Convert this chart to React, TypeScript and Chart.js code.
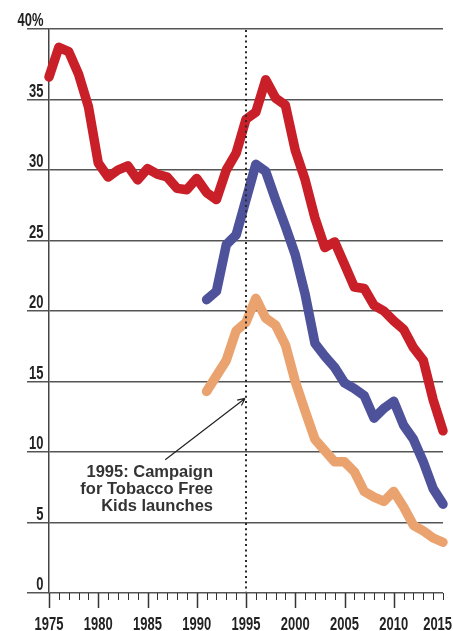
import React, { useEffect, useRef } from 'react';
import { Chart, registerables } from 'chart.js';

Chart.register(...registerables);

// ---- data ----
const allYears = [
  1975, 1976, 1977, 1978, 1979, 1980, 1981, 1982, 1983, 1984,
  1985, 1986, 1987, 1988, 1989, 1990, 1991, 1992, 1993, 1994,
  1995, 1996, 1997, 1998, 1999, 2000, 2001, 2002, 2003, 2004,
  2005, 2006, 2007, 2008, 2009, 2010, 2011, 2012, 2013, 2014, 2015,
];
const laterYears = [
  1991, 1992, 1993, 1994, 1995, 1996, 1997, 1998, 1999, 2000,
  2001, 2002, 2003, 2004, 2005, 2006, 2007, 2008, 2009, 2010,
  2011, 2012, 2013, 2014, 2015,
];
const redValues = [
  36.6, 38.7, 38.4, 36.8, 34.5, 30.5, 29.5, 30.0, 30.3, 29.3,
  30.1, 29.7, 29.5, 28.7, 28.6, 29.4, 28.4, 27.9, 30.0, 31.2,
  33.6, 34.1, 36.4, 35.1, 34.6, 31.4, 29.3, 26.6, 24.5, 24.9,
  23.3, 21.7, 21.6, 20.4, 20.0, 19.3, 18.7, 17.4, 16.5, 13.7, 11.5,
];
const blueValues = [
  20.8, 21.4, 24.7, 25.4, 27.9, 30.4, 29.9, 27.9, 26.0, 24.0,
  21.2, 17.7, 16.8, 16.0, 14.9, 14.5, 14.0, 12.4, 13.1, 13.6,
  11.9, 10.9, 9.3, 7.4, 6.3,
];
const orangeValues = [
  14.3, 15.4, 16.5, 18.6, 19.2, 20.9, 19.5, 19.0, 17.6, 15.0,
  12.9, 10.9, 10.1, 9.3, 9.3, 8.6, 7.2, 6.8, 6.5, 7.2,
  6.1, 4.8, 4.4, 3.9, 3.6,
];
const yTickValues = [0, 5, 10, 15, 20, 25, 30, 35, 40];
const yTickLabels = ['0', '5', '10', '15', '20', '25', '30', '35', '40%'];
const xLabelYears = [1975, 1980, 1985, 1990, 1995, 2000, 2005, 2010, 2015];
const markerYear = 1995;
const annotationLines = ['1995: Campaign', 'for Tobacco Free', 'Kids launches'];
// annotation anchor points in data units
const arrowHead = { x: 1995, y: 13.8 };
const arrowTail = { x: 1986.8, y: 9.45 };
const textAnchor = { x: 1991.65, y: 8.2 };

const RED = '#C91F28';
const BLUE = '#4D529B';
const ORANGE = '#EAA36F';
const INK = '#222222';

function pts(xs: number[], ys: number[]) {
  return xs.map((x, i) => ({ x, y: ys[i] }));
}

function condensedText(
  ctx: CanvasRenderingContext2D,
  text: string,
  x: number,
  y: number,
  align: CanvasTextAlign,
  sx: number
) {
  ctx.save();
  ctx.translate(x, y);
  ctx.scale(sx, 1);
  ctx.textAlign = align;
  ctx.textBaseline = 'alphabetic';
  ctx.fillText(text, 0, 0);
  ctx.restore();
}

const decor = {
  id: 'decor',
  afterDatasetsDraw(chart: any) {
    const { ctx, scales } = chart;
    const x = scales.x;
    const y = scales.y;
    ctx.save();
    // dotted 1995 line
    const dx = Math.round(x.getPixelForValue(markerYear));
    ctx.strokeStyle = '#2a2a2a';
    ctx.lineWidth = 2;
    ctx.setLineDash([2, 3.3]);
    ctx.beginPath();
    ctx.moveTo(dx, y.getPixelForValue(40) + 1);
    ctx.lineTo(dx, y.getPixelForValue(0) - 1);
    ctx.stroke();
    ctx.setLineDash([]);

    // arrow
    const hx = x.getPixelForValue(arrowHead.x) - 1;
    const hy = y.getPixelForValue(arrowHead.y);
    const tx = x.getPixelForValue(arrowTail.x);
    const ty = y.getPixelForValue(arrowTail.y);
    ctx.strokeStyle = INK;
    ctx.lineWidth = 1.2;
    ctx.beginPath();
    ctx.moveTo(tx, ty);
    ctx.lineTo(hx, hy);
    const ang = Math.atan2(hy - ty, hx - tx);
    const len = 8;
    for (const s of [-1, 1]) {
      ctx.moveTo(hx, hy);
      ctx.lineTo(hx - len * Math.cos(ang + s * 0.45), hy - len * Math.sin(ang + s * 0.45));
    }
    ctx.stroke();

    // annotation text
    ctx.fillStyle = '#333333';
    ctx.font = 'bold 16.5px "Liberation Sans", Arial, sans-serif';
    ctx.textAlign = 'right';
    ctx.textBaseline = 'alphabetic';
    const ax = x.getPixelForValue(textAnchor.x);
    const ay = y.getPixelForValue(textAnchor.y);
    annotationLines.forEach((line, i) => {
      ctx.fillText(line, ax, ay + i * 17);
    });
    ctx.restore();
  },
  afterDraw(chart: any) {
    const { ctx, scales } = chart;
    const x = scales.x;
    const y = scales.y;
    const base = y.getPixelForValue(0);
    ctx.save();
    // x ticks
    ctx.strokeStyle = '#333333';
    ctx.lineWidth = 1;
    for (const yr of allYears) {
      const px = Math.round(x.getPixelForValue(yr)) + 0.5;
      const major = yr % 5 === 0 && yr !== allYears[allYears.length - 1];
      ctx.lineWidth = major ? 1.5 : 1;
      ctx.beginPath();
      ctx.moveTo(px, base);
      ctx.lineTo(px, base + (major ? 15 : 7));
      ctx.stroke();
    }
    // x labels
    ctx.fillStyle = INK;
    ctx.font = 'bold 18px "Liberation Sans", Arial, sans-serif';
    const sx = 0.72;
    for (const yr of xLabelYears) {
      let cx = x.getPixelForValue(yr);
      const w = ctx.measureText(String(yr)).width * sx;
      if (cx + w / 2 > chart.width - 1) cx = chart.width - 1 - w / 2;
      condensedText(ctx, String(yr), cx, base + 37, 'center', sx);
    }
    // y labels
    yTickValues.forEach((v, i) => {
      const py = y.getPixelForValue(v);
      condensedText(ctx, yTickLabels[i], 43.5, py - 3, 'right', sx);
    });
    ctx.restore();
  },
};

export default function App() {
  const ref = useRef<HTMLCanvasElement | null>(null);
  useEffect(() => {
    if (!ref.current) return;
    const lineStyle = {
      borderWidth: 9.5,
      pointRadius: 0,
      tension: 0,
      borderJoinStyle: 'round' as const,
      borderCapStyle: 'round' as const,
      fill: false,
      clip: false as const,
    };
    const chart = new Chart(ref.current, {
      type: 'line',
      data: {
        datasets: [
          { ...lineStyle, label: 'orange', data: pts(laterYears, orangeValues), borderColor: ORANGE, backgroundColor: ORANGE },
          { ...lineStyle, label: 'blue', data: pts(laterYears, blueValues), borderColor: BLUE, backgroundColor: BLUE },
          { ...lineStyle, label: 'red', data: pts(allYears, redValues), borderColor: RED, backgroundColor: RED },
        ],
      },
      options: {
        animation: false,
        responsive: false,
        devicePixelRatio: 1,
        layout: { padding: { top: 29, right: 10, left: 0, bottom: 0 } },
        plugins: {
          legend: { display: false },
          tooltip: { enabled: false },
        },
        scales: {
          x: {
            type: 'linear',
            min: 1975,
            max: 2015,
            grid: { display: false },
            border: { display: false },
            ticks: { display: false },
            afterFit: (s: any) => {
              s.height = 38;
            },
          },
          y: {
            min: 0,
            max: 40,
            ticks: { display: false, stepSize: 5 },
            grid: {
              color: '#555555',
              lineWidth: 1.5,
              drawTicks: true,
              tickLength: 22,
            },
            border: { display: true, color: '#444444', width: 1.5 },
            afterFit: (s: any) => {
              s.width = 49;
            },
          },
        },
      },
      plugins: [decor],
    });
    return () => chart.destroy();
  }, []);
  return (
    <div style={{ position: 'absolute', left: 0, top: 0, width: 453, height: 631, background: '#fff' }}>
      <canvas ref={ref} width={453} height={631} />
    </div>
  );
}
